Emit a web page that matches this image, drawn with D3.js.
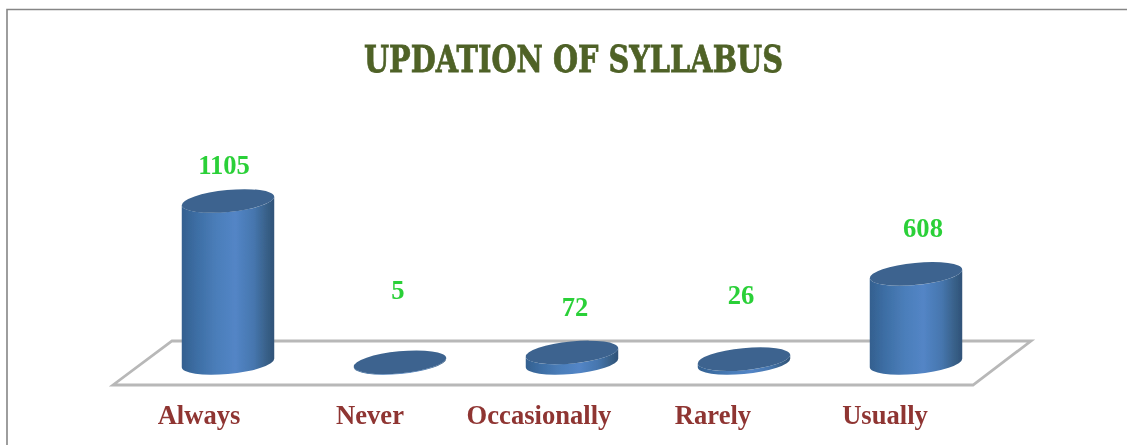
<!DOCTYPE html>
<html>
<head>
<meta charset="utf-8">
<script src="https://cdn.jsdelivr.net/npm/d3@7"></script>
<style>
html,body{margin:0;padding:0;background:#fff;overflow:hidden}
svg{display:block}
</style>
</head>
<body>
<div id="chart"></div>
<script>
const titleText = "UPDATION OF SYLLABUS";
const categories = ["Always", "Never", "Occasionally", "Rarely", "Usually"];
const values = [1105, 5, 72, 26, 608];

const W = 1127, H = 445;
const svg = d3.select("#chart").append("svg").attr("width", W).attr("height", H);
const defs = svg.append("defs");

const grad = defs.append("linearGradient").attr("id", "cyl").attr("x1", 0).attr("x2", 1).attr("y1", 0).attr("y2", 0);
[[0, "#34608f"], [0.15, "#3c6da3"], [0.38, "#4b7eba"], [0.58, "#5385c6"], [0.78, "#4676ae"], [0.92, "#386088"], [1, "#2f5278"]]
  .forEach(([o, c]) => grad.append("stop").attr("offset", o).attr("stop-color", c));
const blur = (id, s) => defs.append("filter").attr("id", id).attr("x", "-5%").attr("y", "-10%").attr("width", "110%").attr("height", "120%")
  .append("feGaussianBlur").attr("stdDeviation", s);
blur("soft", 0.7);
blur("softText", 0.45);

// frame
svg.append("path").attr("d", `M7,${H}V9.5H${W}`).attr("fill", "none").attr("stroke", "#868686").attr("stroke-width", 1.6);

// scales
const x = d3.scaleBand().domain(categories).range([142, 1002]);
const y = d3.scaleLinear().domain([0, 1105]).range([363, 201]);

const plot = svg.append("g").attr("filter", "url(#soft)");

// floor
const floor = [[113, 385], [973, 385], [1031, 341], [172, 341]];
plot.append("path").attr("d", d3.line()(floor) + "Z")
  .attr("fill", "#fff").attr("stroke", "#b8b8b8").attr("stroke-width", 2.8).attr("stroke-linejoin", "miter");

// cylinders
const rx = x.bandwidth() * 0.27, ry = 11, phiDeg = -5.5, phi = phiDeg * Math.PI / 180;
const tt = Math.atan(-(ry / rx) * Math.tan(phi));
const tx = rx * Math.cos(tt) * Math.cos(phi) - ry * Math.sin(tt) * Math.sin(phi);
const ty = rx * Math.cos(tt) * Math.sin(phi) + ry * Math.sin(tt) * Math.cos(phi);

const bars = plot.selectAll("g.bar").data(categories.map((c, i) => ({ c, v: values[i] }))).join("g").attr("class", "bar");
bars.append("path")
  .attr("d", d => {
    const cx = x(d.c) + x.bandwidth() / 2, by = y(0), ty0 = y(d.v);
    return `M${cx - tx},${ty0 - ty}L${cx - tx},${by - ty}` +
      `A${rx},${ry} ${phiDeg} 0 0 ${cx + tx},${by + ty}` +
      `L${cx + tx},${ty0 + ty}` +
      `A${rx},${ry} ${phiDeg} 0 1 ${cx - tx},${ty0 - ty}Z`;
  })
  .attr("fill", "url(#cyl)");
bars.append("ellipse")
  .attr("rx", rx).attr("ry", ry)
  .attr("transform", d => `translate(${x(d.c) + x.bandwidth() / 2},${y(d.v)}) rotate(${phiDeg})`)
  .attr("fill", "#3d648f");

// category axis
const labelDx = [-29, -30, -33, -31, -31];
const axis = svg.append("g").attr("transform", "translate(0,403)").attr("filter", "url(#softText)")
  .call(d3.axisBottom(x).tickSize(0).tickPadding(0));
axis.select(".domain").remove();
axis.selectAll("text")
  .attr("dx", (d, i) => labelDx[i]).attr("y", 21).attr("dy", 0)
  .attr("font-family", "'Liberation Serif'").attr("font-weight", "bold").attr("font-size", 26.6).attr("fill", "#8f3533");

// value labels
const labelDX = [-4, -2, 3, -3, 7];
const labelLift = [27, 63, 36, 55, 37];
svg.append("g").attr("filter", "url(#softText)")
  .selectAll("text.val").data(values).join("text").attr("class", "val")
  .attr("x", (d, i) => x(categories[i]) + x.bandwidth() / 2 + labelDX[i])
  .attr("y", (d, i) => y(d) - labelLift[i])
  .attr("text-anchor", "middle")
  .attr("font-family", "'Liberation Serif'").attr("font-weight", "bold").attr("font-size", 26.6).attr("fill", "#2bd038")
  .text(d => d);

// title
svg.append("g").attr("filter", "url(#softText)")
  .append("text").attr("x", 364).attr("y", 72)
  .attr("textLength", 419).attr("lengthAdjust", "spacingAndGlyphs")
  .attr("font-family", "'DejaVu Serif'").attr("font-weight", "bold").attr("font-size", 37)
  .attr("fill", "#4f6228").attr("stroke", "#4f6228").attr("stroke-width", 0.8)
  .text(titleText);
</script>
</body>
</html>
